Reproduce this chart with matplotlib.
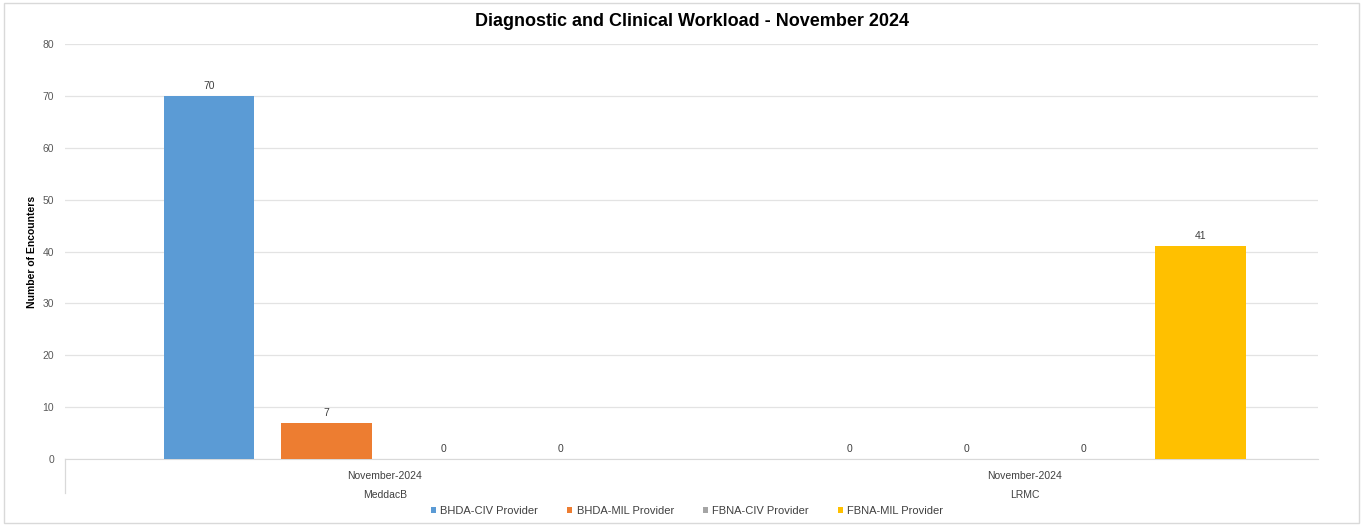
import numpy as np
import matplotlib.pyplot as plt

plt.rcParams['font.family'] = ['Liberation Sans', 'DejaVu Sans']

groups = ['MeddacB', 'LRMC']
period = 'November-2024'
series = ['BHDA-CIV Provider', 'BHDA-MIL Provider', 'FBNA-CIV Provider', 'FBNA-MIL Provider']
values = [
    [70, 0],   # BHDA-CIV
    [7, 0],    # BHDA-MIL
    [0, 0],    # FBNA-CIV
    [0, 41],   # FBNA-MIL
]
colors = ['#5B9BD5', '#ED7D31', '#A5A5A5', '#FFC000']

fig = plt.figure(figsize=(13.63, 5.26), dpi=100)
ax = fig.add_axes([0.0477, 0.1274, 0.9193, 0.7886])

x = np.arange(len(groups))
step = 0.183
width = 0.141
for i, (name, vals) in enumerate(zip(series, values)):
    pos = x + (i - 1.5) * step
    bars = ax.bar(pos, vals, width, color=colors[i], label=name, zorder=3)
    for b, v in zip(bars, vals):
        ax.text(b.get_x() + b.get_width() / 2, v + 1.0, str(v),
                ha='center', va='bottom', fontsize=7.5, color='#404040')

ax.set_xlim(-0.5, 1.458)
ax.set_ylim(0, 80)
ax.set_yticks(range(0, 81, 10))
ax.tick_params(axis='y', length=0, labelsize=7.5, labelcolor='#595959', pad=8)
ax.set_xticks([])
ax.grid(axis='y', color='#E3E3E3', linewidth=0.9, zorder=0)
for s in ['top', 'right', 'left']:
    ax.spines[s].set_visible(False)
ax.spines['bottom'].set_color('#D9D9D9')

# two-level category labels
for xi, g in zip(x, groups):
    ax.text(xi, -2.3, period, ha='center', va='top', fontsize=7.5, color='#404040')
    ax.text(xi, -6.0, g, ha='center', va='top', fontsize=7.5, color='#404040')
ax.plot([-0.5, -0.5], [0, -6.5], color='#D9D9D9', linewidth=0.9, clip_on=False)

ax.set_ylabel('Number of Encounters', fontsize=7.5, fontweight='bold', labelpad=4)
ax.set_title('Diagnostic and Clinical Workload - November 2024', fontsize=13,
             fontweight='bold', pad=13)

leg = fig.legend(loc='lower center', bbox_to_anchor=(0.504, 0.0), ncol=4, frameon=False,
                 fontsize=8, handlelength=0.45, handleheight=0.45, handletextpad=0.4,
                 columnspacing=2.6)
for t in leg.get_texts():
    t.set_color('#404040')

fig.patches.append(plt.Rectangle((0.003, 0.006), 0.994, 0.988, transform=fig.transFigure,
                                 fill=False, edgecolor='#D9D9D9', linewidth=1))

fig.savefig('out.png', dpi=100)
